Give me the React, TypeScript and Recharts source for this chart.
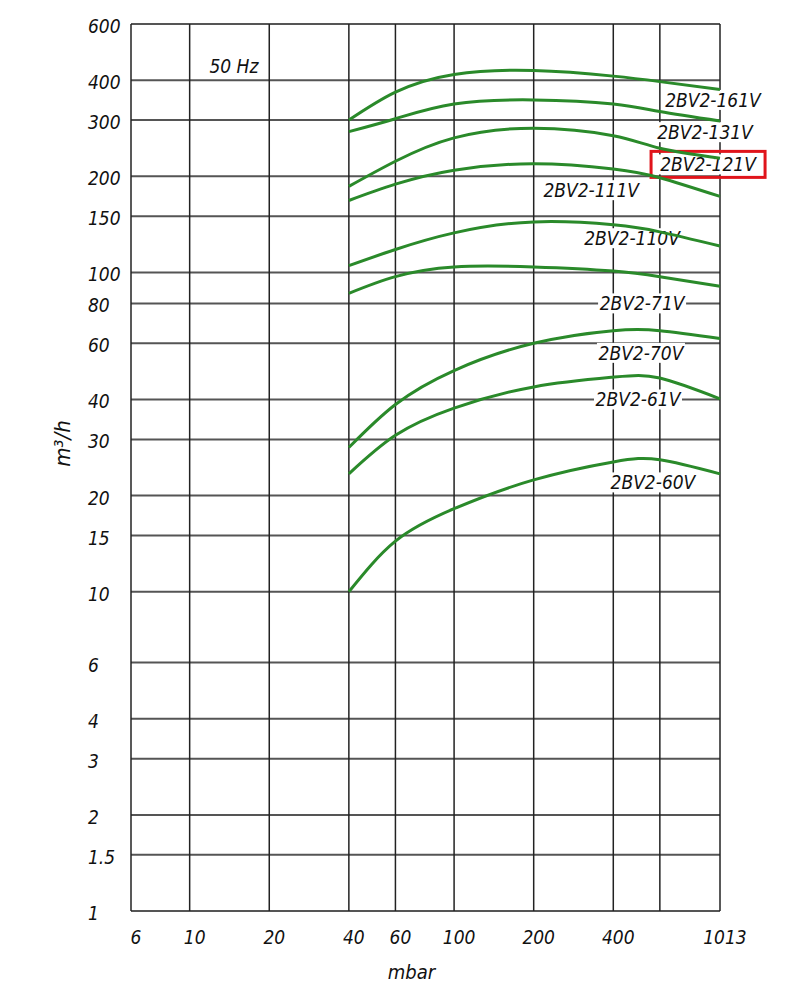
import React from 'react';
import {
  LineChart, Line, XAxis, YAxis, CartesianGrid, ReferenceDot, Label,
} from 'recharts';

// pressure points (mbar) the curves are read at
const pressure = [40, 60, 100, 200, 400, 600, 1013];

// suction capacity (m3/h) per pump model
const flow161V = [300, 367, 417, 429, 412, 396, 374];
const flow131V = [276, 303, 337, 347, 337, 319, 298];
const flow121V = [186, 223, 264, 283, 268, 245, 228];
const flow111V = [168, 189, 209, 219, 211, 198, 173];
const flow110V = [105, 118, 133, 144, 141, 134, 121];
const flow71V = [86, 97, 104, 104, 101, 97, 90.5];
const flow70V = [28.3, 38.6, 49.3, 60, 65.7, 65.7, 62.1];
const flow61V = [23.4, 30.9, 37.6, 43.8, 47, 46.7, 40.2];
const flow60V = [10, 14.4, 18.2, 22.4, 25.5, 25.9, 23.4];

const seriesKeys = ['m161', 'm131', 'm121', 'm111', 'm110', 'm71', 'm70', 'm61', 'm60'];
const seriesValues = [flow161V, flow131V, flow121V, flow111V, flow110V, flow71V, flow70V, flow61V, flow60V];

// curve labels and where they sit (data coords)
const labelNames = ['2BV2-161V', '2BV2-131V', '2BV2-121V', '2BV2-111V', '2BV2-110V', '2BV2-71V', '2BV2-70V', '2BV2-61V', '2BV2-60V'];
const labelP = [953, 889, 913, 330, 471, 514, 509, 496, 565];
const labelQ = [347, 275, 218, 181, 128, 80, 56, 40, 22];
const highlighted = '2BV2-121V';

const xTicks = [6, 10, 20, 40, 60, 100, 200, 400, 600, 1013];
const xTickHidden = [600];
const yTicks = [1, 1.5, 2, 3, 4, 6, 10, 15, 20, 30, 40, 60, 80, 100, 150, 200, 300, 400, 600];

const data = pressure.map((p, i) => {
  const row: Record<string, number> = { p };
  seriesKeys.forEach((k, j) => { row[k] = seriesValues[j][i]; });
  return row;
});

const FONT = "'DejaVu Sans Condensed', 'DejaVu Sans', sans-serif";
const GREEN = '#2a8a2a';

const YTick = (props: any) => {
  const { x, y, payload } = props;
  return (
    <text x={x - 43} y={y + 9} textAnchor="start" fontSize={19} fontStyle="italic" fontFamily={FONT} fill="#111">
      {payload.value}
    </text>
  );
};

const XTick = (props: any) => {
  const { x, y, payload } = props;
  if (xTickHidden.includes(payload.value)) return <g />;
  return (
    <text x={x + 5} y={y + 33} textAnchor="middle" fontSize={19} fontStyle="italic" fontFamily={FONT} fill="#111">
      {payload.value}
    </text>
  );
};

const CurveTag = (props: any) => {
  const { cx, cy, text } = props;
  const w = text.length * 10.5 + 4;
  return (
    <g>
      <rect x={cx - w / 2} y={cy - 10} width={w} height={20} fill="#fff" />
      <text x={cx} y={cy + 7} textAnchor="middle" fontSize={19} fontStyle="italic" fontFamily={FONT} fill="#111">
        {text}
      </text>
      {text === highlighted && (
        <rect x={cx - 57} y={cy - 13} width={114} height={26} fill="none" stroke="#e0141b" strokeWidth={3} />
      )}
    </g>
  );
};

const App: React.FC = () => {
  return (
    <LineChart width={772} height={980} data={data} margin={{ top: 16, right: 60, left: 0, bottom: 0 }}>
      <CartesianGrid horizontal={true} vertical={false} stroke="#555" strokeWidth={2} />
      <CartesianGrid horizontal={false} vertical={true} stroke="#222" strokeWidth={1.5} />
      <XAxis
        dataKey="p"
        type="number"
        scale="log"
        domain={[6, 1013]}
        ticks={xTicks}
        interval={0}
        axisLine={false}
        tickLine={false}
        tickSize={0}
        tickMargin={0}
        height={77}
        tick={<XTick />}
      >
        <Label
          content={({ viewBox }: any) => (
            <text x={viewBox.x + viewBox.width / 2 - 14} y={viewBox.y + 68} textAnchor="middle" fontSize={20} fontStyle="italic" fontFamily={FONT} fill="#111">
              mbar
            </text>
          )}
        />
      </XAxis>
      <YAxis
        type="number"
        scale="log"
        domain={[1, 600]}
        ticks={yTicks}
        interval={0}
        axisLine={false}
        tickLine={false}
        tickSize={0}
        tickMargin={0}
        width={123}
        tick={<YTick />}
      >
        <Label
          content={({ viewBox }: any) => {
            const lx = 62;
            const ly = viewBox.y + viewBox.height / 2 - 24;
            return (
              <text x={lx} y={ly} transform={`rotate(-90 ${lx} ${ly})`} textAnchor="middle" fontSize={22} fontStyle="italic" fontFamily={FONT} fill="#111">
                m³/h
              </text>
            );
          }}
        />
      </YAxis>
      <ReferenceDot
        x={14.7}
        y={443}
        r={0}
        zIndex={-50}
        shape={(props: any) => (
          <text x={props.cx} y={props.cy + 7} textAnchor="middle" fontSize={19} fontStyle="italic" fontFamily={FONT} fill="#111">
            50 Hz
          </text>
        )}
      />
      {labelNames.map((name, i) => (
        <ReferenceDot
          key={name}
          x={labelP[i]}
          y={labelQ[i]}
          r={0}
          zIndex={-50}
          shape={(props: any) => <CurveTag {...props} text={name} />}
        />
      ))}
      {seriesKeys.map((k) => (
        <Line
          key={k}
          type="natural"
          dataKey={k}
          stroke={GREEN}
          strokeWidth={3}
          dot={false}
          activeDot={false}
          isAnimationActive={false}
        />
      ))}
    </LineChart>
  );
};

export default App;
